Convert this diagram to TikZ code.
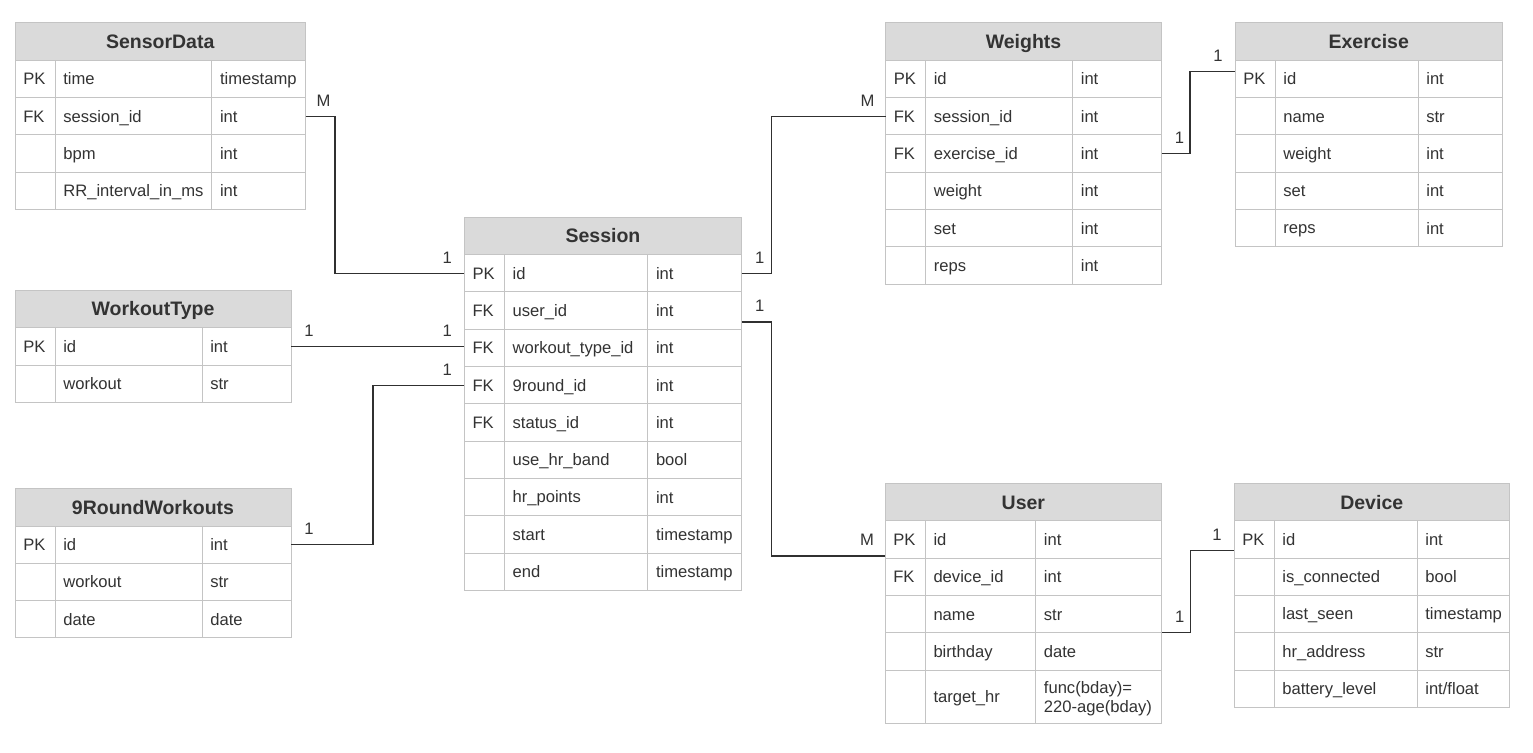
\documentclass[tikz,border=0pt]{standalone}
\usepackage{fontspec}
\setmainfont{Liberation Sans}
\usepackage{tikz}
\usetikzlibrary{positioning}
\usetikzlibrary{calc}

\definecolor{headfill}{HTML}{DADADA}
\definecolor{cellline}{HTML}{C4C4C4}
\definecolor{inktext}{HTML}{333333}
\definecolor{linkline}{HTML}{303030}

\newcommand{\cellstrut}{\rule[-3.1pt]{0pt}{18.1pt}}
\newcommand{\headstrut}{\rule[-3pt]{0pt}{20pt}}

\tikzset{
  rowbox/.style={rectangle, anchor=north west, inner sep=0pt, outer sep=0pt},
  tblcell/.style={rectangle, draw=cellline, line width=1pt, anchor=north west,
    inner xsep=8.3pt, inner ysep=0pt, outer sep=0pt, align=left, text=inktext,
    font=\fontsize{16.6}{19}\selectfont,
    execute at begin node={\hyphenpenalty=10000 \exhyphenpenalty=10000 \cellstrut},
    execute at end node={\cellstrut}},
  tblhead/.style={tblcell, fill=headfill, align=center, minimum height=37.3pt,
    font=\fontsize{19.5}{22}\selectfont\bfseries,
    execute at begin node={\headstrut}, execute at end node={}},
  link/.style={draw=linkline, line width=1.3pt},
  card/.style={inner sep=0pt, text=inktext, font=\fontsize{16.6}{19}\selectfont,
    execute at begin node={\cellstrut}},
}

% one row: index, key, field, type, height
\newcommand{\erdrow}[5]{%
  \pgfmathsetmacro\rowtop{\tbly+37.3*#1}%
  \pgfmathsetmacro\cellwa{\tblca-\tblx-16.6}%
  \pgfmathsetmacro\cellwb{\tblcb-\tblca-16.6}%
  \pgfmathsetmacro\cellwc{\tblr-\tblcb-16.6}%
  \pgfmathsetmacro\cellwr{\tblr-\tblx}%
  \node[rowbox, minimum width=\cellwr pt, minimum height=#5pt] (\tblname-#1) at (\tblx,\rowtop) {};
  \node[tblcell, minimum height=#5pt, text width=\cellwa pt] at (\tblx,\rowtop) {#2};
  \node[tblcell, minimum height=#5pt, text width=\cellwb pt] at (\tblca,\rowtop) {#3};
  \node[tblcell, minimum height=#5pt, text width=\cellwc pt] at (\tblcb,\rowtop) {#4};
}

% table: name, left, top, right, column 1, column 2, title, rows
\newcommand{\erdtable}[8]{%
  \def\tblname{#1}\def\tblx{#2}\def\tbly{#3}\def\tblr{#4}\def\tblca{#5}\def\tblcb{#6}%
  \pgfmathsetmacro\tblw{#4-#2-16.6}%
  \node[tblhead, text width=\tblw pt] (#1) at (#2,#3) {#7};
  \foreach \k/\f/\t [count=\i] in {#8} {\erdrow{\i}{\k}{\f}{\t}{37.3}}%
}

\begin{document}
\begin{tikzpicture}[x=1pt, y=-1pt]
  \path[fill=white, use as bounding box] (0,0) rectangle (1533,752);

  \erdtable{sensor}{15}{23}{305.5}{55}{211.7}{SensorData}{PK/time/timestamp, FK/session\_id/int, /bpm/int, /RR\_interval\_in\_ms/int}
  \erdtable{wtype}{15}{290.5}{291}{55}{202}{WorkoutType}{PK/id/int, /workout/str}
  \erdtable{nineround}{15}{488.7}{291}{55}{202}{9RoundWorkouts}{PK/id/int, /workout/str, /date/date}
  \erdtable{session}{464.3}{217.3}{741.7}{504.3}{647.7}{Session}{PK/id/int, FK/user\_id/int, FK/workout\_type\_id/int, FK/9round\_id/int, FK/status\_id/int, /use\_hr\_band/bool, /hr\_points/int, /start/timestamp, /end/timestamp}
  \erdtable{weights}{885.5}{23}{1161.5}{925.5}{1072.5}{Weights}{PK/id/int, FK/session\_id/int, FK/exercise\_id/int, /weight/int, /set/int, /reps/int}
  \erdtable{exercise}{1235}{23}{1502.5}{1275}{1418}{Exercise}{PK/id/int, /name/str, /weight/int, /set/int, /reps/int}
  \erdtable{user}{885}{483.5}{1161.7}{925.2}{1035.6}{User}{PK/id/int, FK/device\_id/int, /name/str, /birthday/date}
  \erdrow{5}{}{target\_hr}{func(bday)=\\220-age(bday)}{53.7}
  \erdtable{device}{1234}{483.5}{1509.5}{1274}{1417}{Device}{PK/id/int, /is\_connected/bool, /last\_seen/timestamp, /hr\_address/str, /battery\_level/{int/float}}

  \draw[link] (sensor-2.east) -- ++(29.5,0) |- (session-1.west);
  \draw[link] (wtype-1.east) -- (wtype-1.east -| session-3.west);
  \draw[link] (nineround-1.east) -- ++(82,0) |- (session-4.west);
  \draw[link] (session-1.east) -- ++(29.5,0) |- (weights-2.west);
  \draw[link] ([yshift=-11.4pt]session-2.east) -- ++(30,0) |- ([yshift=-16.4pt]user-1.west);
  \draw[link] (weights-3.east) -- ++(28.5,0) |- ([yshift=7.5pt]exercise-1.west);
  \draw[link] (user-3.south east) -- ++(28.5,0) |- ([yshift=-11pt]device-1.west);

  \node[card] at ([xshift=18pt,yshift=16pt]sensor-2.east) {M};
  \node[card] at ([xshift=-17pt,yshift=16pt]session-1.west) {1};
  \node[card] at ([xshift=18pt,yshift=16pt]wtype-1.east) {1};
  \node[card] at ([xshift=-17pt,yshift=16pt]wtype-1.east -| session-3.west) {1};
  \node[card] at ([xshift=18pt,yshift=16pt]nineround-1.east) {1};
  \node[card] at ([xshift=-17pt,yshift=16pt]session-4.west) {1};
  \node[card] at ([xshift=18pt,yshift=16pt]session-1.east) {1};
  \node[card] at ([xshift=-18pt,yshift=16pt]weights-2.west) {M};
  \node[card] at ([xshift=18pt,yshift=4.6pt]session-2.east) {1};
  \node[card] at ([xshift=-18pt,yshift=-0.4pt]user-1.west) {M};
  \node[card] at ([xshift=18pt,yshift=16pt]weights-3.east) {1};
  \node[card] at ([xshift=-17pt,yshift=23.5pt]exercise-1.west) {1};
  \node[card] at ([xshift=18pt,yshift=16pt]user-3.south east) {1};
  \node[card] at ([xshift=-17pt,yshift=5pt]device-1.west) {1};
\end{tikzpicture}
\end{document}
